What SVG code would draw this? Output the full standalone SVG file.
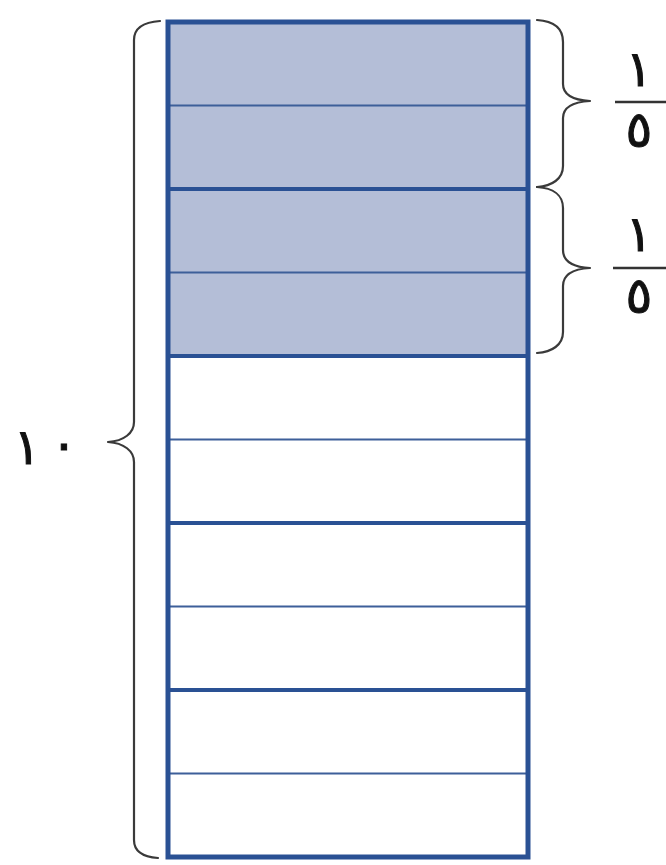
<svg xmlns="http://www.w3.org/2000/svg" width="666" height="865" viewBox="0 0 666 865">
<style>
.grid-thin{stroke:#3d5f99;stroke-width:2.2;fill:none}
.grid-thick{stroke:#2a5194;stroke-width:4;fill:none}
.brace{stroke:#3a3a3a;stroke-width:2.2;fill:none;stroke-linecap:round;stroke-linejoin:round}
.num{font-family:"DejaVu Sans",sans-serif;font-weight:normal;fill:#111;stroke:#111;stroke-width:1;text-anchor:middle;font-size:50px}
.bar{stroke:#333;stroke-width:2.5}
</style>
<rect width="666" height="865" fill="#ffffff"/>
<g id="bar">
<rect x="168" y="22" width="360" height="334" fill="#b4bed7"/>
<g id="lines">
<line class="grid-thin" x1="168" y1="105.5" x2="528" y2="105.5"/>
<line class="grid-thick" x1="168" y1="189" x2="528" y2="189"/>
<line class="grid-thin" x1="168" y1="272.5" x2="528" y2="272.5"/>
<line class="grid-thick" x1="168" y1="356" x2="528" y2="356"/>
<line class="grid-thin" x1="168" y1="439.5" x2="528" y2="439.5"/>
<line class="grid-thick" x1="168" y1="523" x2="528" y2="523"/>
<line class="grid-thin" x1="168" y1="606.5" x2="528" y2="606.5"/>
<line class="grid-thick" x1="168" y1="690" x2="528" y2="690"/>
<line class="grid-thin" x1="168" y1="773.5" x2="528" y2="773.5"/>
</g>
<rect x="168" y="22" width="360" height="835" fill="none" stroke="#2a5194" stroke-width="5"/>
</g>
<g id="brace-left">
<path class="brace" d="M160,21 C145,22 134,27 134,40 L134,422 C134,433 124,441 108,442 C124,443 134,451 134,462 L134,840 C134,852 144,857 158,858"/>
<text class="num" x="27" y="464">١</text>
<text class="num" x="64" y="461" font-size="62" font-weight="bold">٠</text>
</g>
<g id="brace-top">
<path class="brace" d="M537,20 C553,21 563,28 563,42 L563,84 C563,94 572,100 590,101 C572,102 563,108 563,118 L563,166 C563,179 552,186 537,187"/>
<text class="num" x="639" y="86">١</text>
<line class="bar" x1="615" y1="102" x2="666" y2="102"/>
<text class="num" x="639" y="147">٥</text>
</g>
<g id="brace-second">
<path class="brace" d="M537,187 C553,188 563,195 563,208 L563,250 C563,261 572,267 590,268 C572,269 563,275 563,286 L563,332 C563,345 552,352 537,353"/>
<text class="num" x="639" y="251">١</text>
<line class="bar" x1="613" y1="268" x2="666" y2="268"/>
<text class="num" x="639" y="313">٥</text>
</g>
</svg>
